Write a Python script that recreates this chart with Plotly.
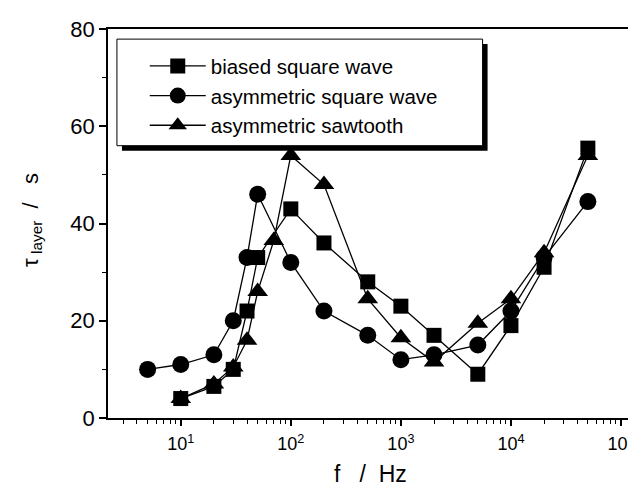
import plotly.graph_objects as go

# Data
freq_sq = [10, 20, 30, 40, 50, 100, 200, 500, 1000, 2000, 5000, 10000, 20000, 50000]
tau_sq = [4, 6.5, 10, 22, 33, 43, 36, 28, 23, 17, 9, 19, 31, 55.5]

freq_circ = [5, 10, 20, 30, 40, 50, 100, 200, 500, 1000, 2000, 5000, 10000, 20000, 50000]
tau_circ = [10, 11, 13, 20, 33, 46, 32, 22, 17, 12, 13, 15, 22, 33, 44.5]

freq_tri = [10, 20, 30, 40, 50, 70, 100, 200, 500, 1000, 2000, 5000, 10000, 20000, 50000]
tau_tri = [4, 7, 10.5, 16, 26, 36.5, 54, 48, 24.5, 16.5, 11.5, 19.5, 24.5, 34, 54]

names = ["biased square wave", "asymmetric square wave", "asymmetric sawtooth"]
x_tickvals = [10, 100, 1000, 10000, 100000]
x_ticktext = ["10<sup>1</sup>", "10<sup>2</sup>", "10<sup>3</sup>", "10<sup>4</sup>", "10<sup>5</sup>"]
x_minor = [m * 10 ** k for k in range(0, 5) for m in range(2, 10)]
y_tickvals = [0, 20, 40, 60, 80]
y_minor = [10, 30, 50, 70]

FONT = "Arial, Liberation Sans, sans-serif"
NB = "\u00a0"

fig = go.Figure()
series = [
    (freq_sq, tau_sq, "square", 15),
    (freq_circ, tau_circ, "circle", 17),
    (freq_tri, tau_tri, "triangle-up", 18),
]
for (fx, fy, sym, sz), nm in zip(series, names):
    fig.add_trace(go.Scatter(
        x=fx, y=fy, mode="lines+markers", name=nm,
        line=dict(color="black", width=1.3),
        marker=dict(symbol=sym, size=sz, color="black"),
    ))

# legend box with drop shadow (paper coordinates of the plot area)
fig.add_shape(type="rect", xref="paper", yref="paper",
              x0=0.0266, x1=0.723, y0=0.687, y1=0.9615,
              line=dict(width=0), fillcolor="black", layer="above")
fig.add_shape(type="rect", xref="paper", yref="paper",
              x0=0.017, x1=0.7135, y0=0.70, y1=0.974,
              line=dict(color="black", width=1), fillcolor="white", layer="above")

# axis titles
fig.add_annotation(xref="paper", yref="paper", x=0.5, y=-0.182,
                   xanchor="center", yanchor="bottom", showarrow=False,
                   text=f"f{NB}{NB}{NB}/{NB}{NB}Hz", font=dict(size=23, family=FONT))
fig.add_annotation(xref="paper", yref="paper", x=-0.146, y=0.51,
                   xanchor="center", yanchor="middle", showarrow=False, textangle=-90,
                   text=f"τ<sub>{NB}layer</sub>{NB}{NB}/{NB}{NB}{NB}s", font=dict(size=22, family=FONT))

fig.update_layout(
    width=636, height=488, autosize=False,
    margin=dict(l=100, r=9, t=20, b=78),
    plot_bgcolor="white", paper_bgcolor="white",
    font=dict(family=FONT, color="black", size=20),
    showlegend=True,
    legend=dict(x=0.07, y=0.956, xanchor="left", yanchor="top",
                bgcolor="rgba(0,0,0,0)", borderwidth=0,
                font=dict(size=20.5, family=FONT), itemwidth=56,
                tracegroupgap=0),
    xaxis=dict(
        type="log", range=[0.339, 5.109],
        tickvals=x_tickvals, ticktext=x_ticktext,
        ticks="outside", ticklen=6, tickwidth=1.5, tickcolor="black",
        minor=dict(tickvals=x_minor, ticks="outside", ticklen=4, tickwidth=1.2, tickcolor="black"),
        showline=True, linecolor="black", linewidth=1.5, mirror=True,
        showgrid=False, zeroline=False,
        tickfont=dict(size=18), ticklabelstandoff=3, ticklabeloverflow="allow",
    ),
    yaxis=dict(
        range=[0, 80], tickvals=y_tickvals,
        ticks="outside", ticklen=7, tickwidth=1.5, tickcolor="black",
        minor=dict(tickvals=y_minor, ticks="outside", ticklen=4, tickwidth=1.2, tickcolor="black"),
        showline=True, linecolor="black", linewidth=1.5, mirror=True,
        showgrid=False, zeroline=False,
        tickfont=dict(size=22),
    ),
)

fig.write_html("out.html")
